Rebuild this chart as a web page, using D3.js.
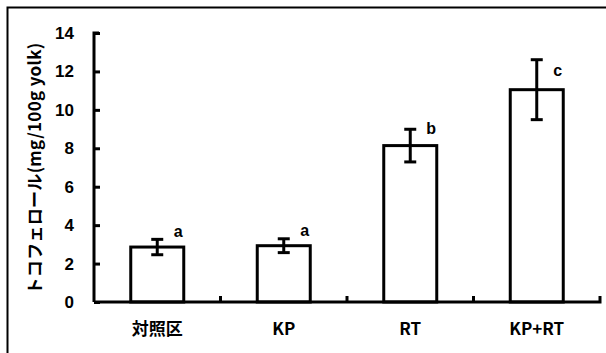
<!DOCTYPE html>
<html>
<head>
<meta charset="UTF-8">
<title>tocopherol</title>
<style>
  body{ margin:0; background:#fff; }
  text{ font-family:"Noto Sans CJK JP","Liberation Sans",sans-serif; font-weight:bold; fill:#000; }
  .num{ font-family:"Liberation Sans",Arial,sans-serif; }
</style>
<script src="https://cdn.jsdelivr.net/npm/d3@7"></script>
</head>
<body>
<script>
// データ
var categories = ['対照区', 'KP', 'RT', 'KP+RT'];
var means = [2.86, 2.93, 8.14, 11.05];
var errs = [0.4, 0.36, 0.85, 1.56];
var letters = ['a', 'a', 'b', 'c'];
var yTicks = [0, 2, 4, 6, 8, 10, 12, 14];

var width = 606, height = 353;
var svg = d3.select('body').append('svg')
  .attr('width', width).attr('height', height);

// 外枠
svg.append('path')
  .attr('d', 'M7.5,' + (height + 5) + 'V7.5H' + (width + 5))
  .attr('fill', 'none').attr('stroke', '#000').attr('stroke-width', 2);

var x0 = 94, x1 = 600, yTop = 33, yBot = 302;

var x = d3.scaleBand().domain(categories).range([x0, x1]).paddingInner(0).paddingOuter(0);
var y = d3.scaleLinear().domain([0, 14]).range([yBot, yTop]);
var barW = 53;
function cx(d){ return x(d) + x.bandwidth() / 2; }

var g = svg.append('g');

// 棒
g.selectAll('rect.bar')
  .data(categories)
  .enter().append('rect')
  .attr('x', function(d){ return cx(d) - barW / 2; })
  .attr('y', function(d, i){ return y(means[i]); })
  .attr('width', barW)
  .attr('height', function(d, i){ return y(0) - y(means[i]); })
  .attr('fill', '#fff').attr('stroke', '#000').attr('stroke-width', 3);

// 誤差棒
var eb = g.selectAll('g.err')
  .data(categories)
  .enter().append('g')
  .attr('stroke', '#000').attr('stroke-width', 3);
eb.append('line')
  .attr('x1', cx).attr('x2', cx)
  .attr('y1', function(d, i){ return y(means[i] + errs[i]); })
  .attr('y2', function(d, i){ return y(means[i] - errs[i]); });
[1, -1].forEach(function(s){
  eb.append('line')
    .attr('x1', function(d){ return cx(d) - 6; })
    .attr('x2', function(d){ return cx(d) + 6; })
    .attr('y1', function(d, i){ return y(means[i] + s * errs[i]); })
    .attr('y2', function(d, i){ return y(means[i] + s * errs[i]); });
});

// 有意差の文字
g.selectAll('text.sig')
  .data(categories)
  .enter().append('text')
  .attr('class', 'num')
  .attr('x', function(d){ return cx(d) + 21; })
  .attr('y', function(d, i){ return y(means[i]) - 9 - 0.15 * (y(0) - y(errs[i])); })
  .attr('text-anchor', 'middle')
  .style('font-size', '16px')
  .text(function(d, i){ return letters[i]; });

// Y軸
var yAxis = d3.axisLeft(y).tickValues(yTicks).tickSize(-6).tickPadding(20);
var ya = svg.append('g').attr('transform', 'translate(' + x0 + ',0)').call(yAxis);
ya.select('.domain').attr('stroke-width', 3).attr('d', 'M5,' + yTop + 'H0V' + yBot);
ya.selectAll('.tick line').attr('stroke-width', 3);
ya.selectAll('.tick text').attr('class', 'num').style('font-size', '17px');

// X軸
var xAxis = d3.axisBottom(x).tickSize(0).tickPadding(21);
var xa = svg.append('g').attr('transform', 'translate(0,' + yBot + ')').call(xAxis);
xa.select('.domain').attr('stroke-width', 3).attr('d', 'M' + x0 + ',0H' + x1 + 'V-6');
xa.selectAll('.tick text').style('font-size', '17px');
// 区切りの目盛り
xa.selectAll('line.sep')
  .data(categories.slice(1))
  .enter().append('line')
  .attr('x1', function(d){ return x(d); }).attr('x2', function(d){ return x(d); })
  .attr('y1', 0).attr('y2', -6)
  .attr('stroke', '#000').attr('stroke-width', 3);

// Y軸ラベル
svg.append('text')
  .attr('transform', 'translate(41,' + ((yTop + yBot) / 2 + 1) + ') rotate(-90)')
  .attr('text-anchor', 'middle')
  .style('font-size', '17px')
  .style('letter-spacing', '0.3px')
  .text('トコフェロール(mg/100g yolk)');
</script>
</body>
</html>
